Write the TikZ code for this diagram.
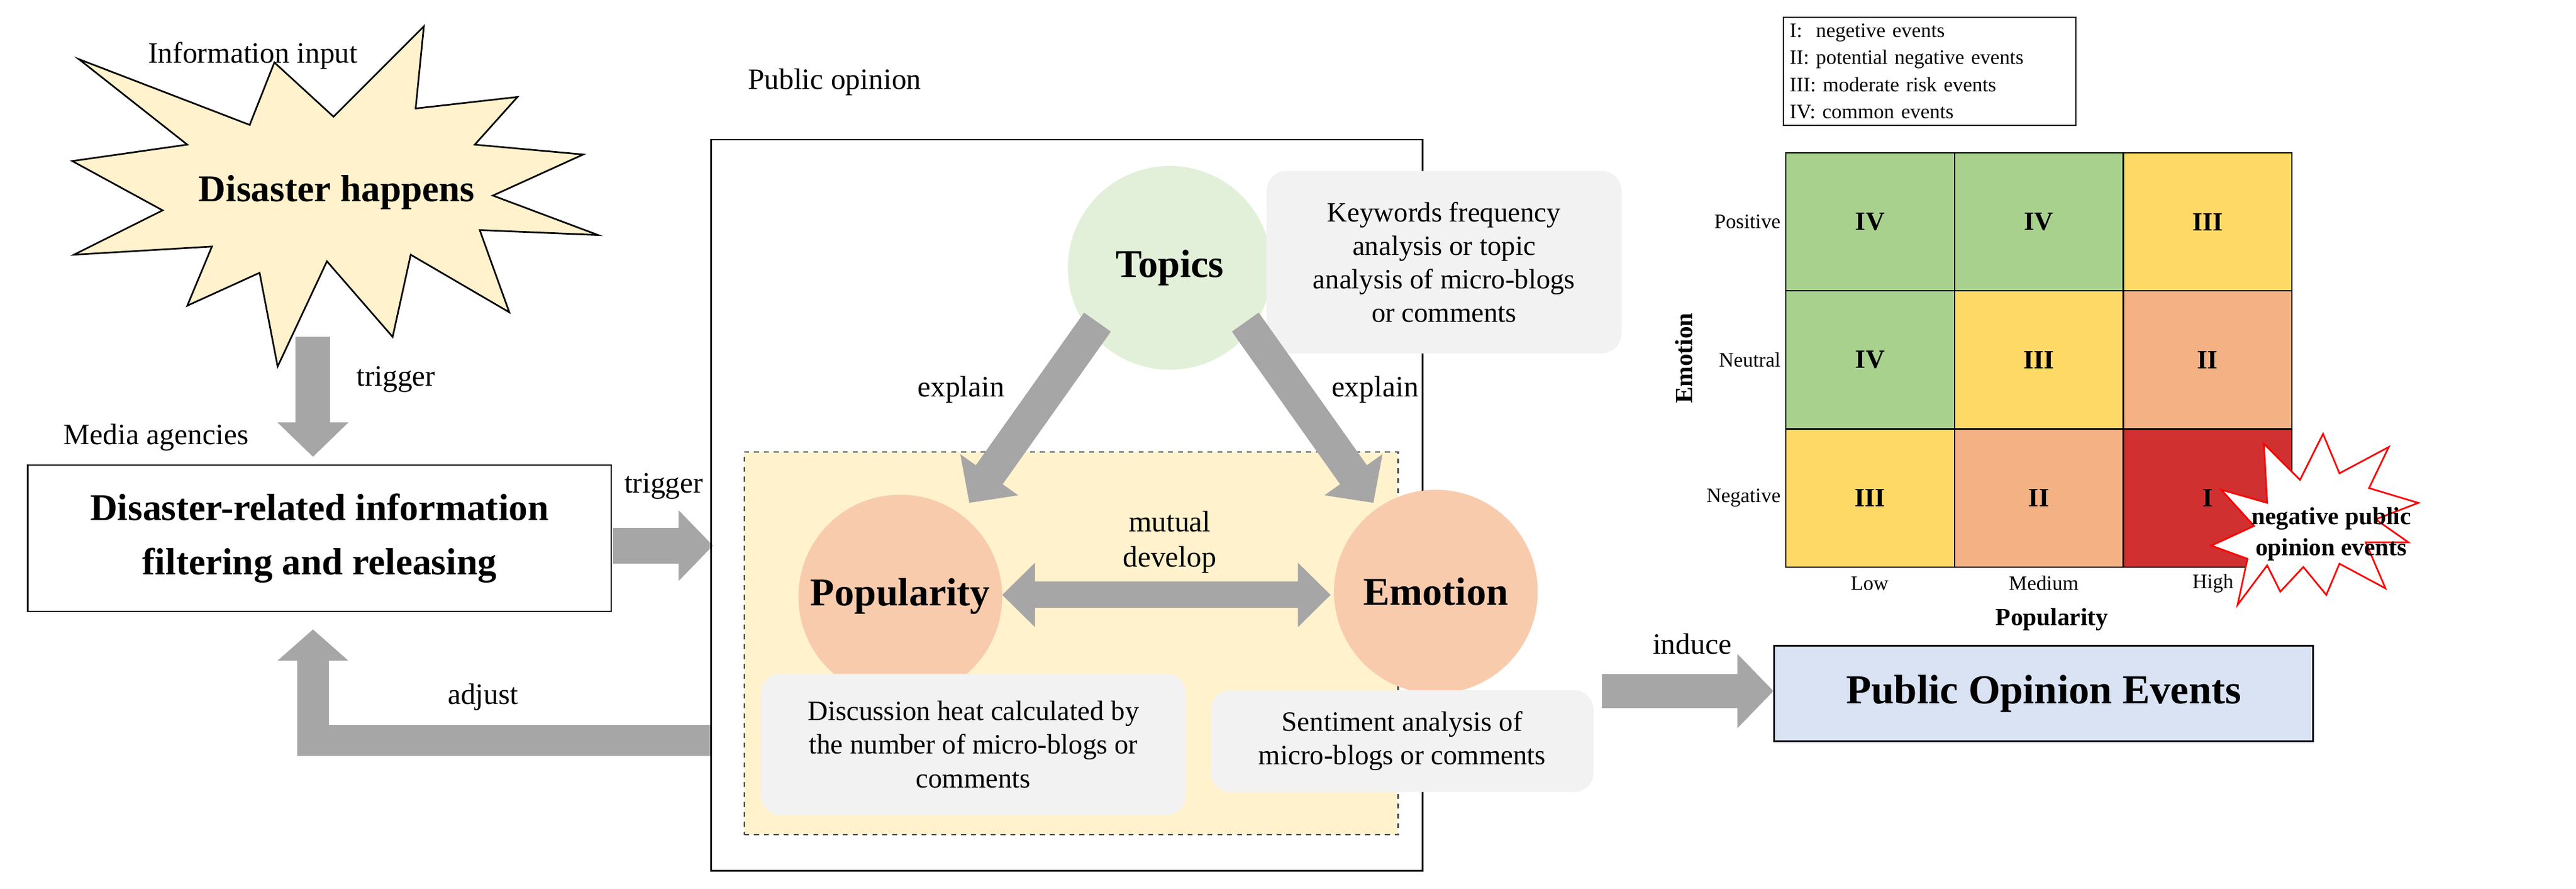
\documentclass[tikz,border=0pt]{standalone}
\usepackage{fontspec}
\setmainfont{Liberation Serif}
\usetikzlibrary{arrows.meta}
\definecolor{arr}{HTML}{A6A6A6}
\definecolor{star}{HTML}{FFF2CC}
\definecolor{note}{HTML}{F2F2F2}
\definecolor{cgreen}{HTML}{A9D18E}
\definecolor{cyel}{HTML}{FFD966}
\definecolor{corg}{HTML}{F4B183}
\definecolor{cred}{HTML}{D03030}
\definecolor{ctop}{HTML}{E2F0D9}
\definecolor{cpop}{HTML}{F8CBAD}
\definecolor{cev}{HTML}{DAE3F3}
\tikzset{
  fs/.style={font=\fontsize{#1}{\dimexpr#1pt*6/5\relax}\selectfont},
  barr/.style={draw=arr,line width=#1},
  tipA/.style={-{Triangle[width=42pt,length=21pt]}},
  lbl/.style={fs=18,inner sep=0pt},
  note/.style={fill=note,rounded corners=12pt,align=center,fs=17,inner sep=0pt},
  circ/.style={circle,minimum size=124pt,inner sep=0pt,font=\fontsize{24}{28}\selectfont\bfseries},
  cell/.style={draw=black,line width=0.8pt,minimum width=102.7pt,minimum height=84pt,inner sep=0pt,font=\fontsize{16}{19}\selectfont\bfseries},
  small/.style={fs=12.5,inner sep=0pt}
}
\begin{document}
\begin{tikzpicture}[x=1pt,y=-1pt]
\useasboundingbox[fill=white] (0,0) rectangle (1568,540.6);
% top starburst
\draw[fill=star,line width=1pt,line join=miter] (48,36)--(152,76)--(167,38)--(203,71)--(258,16)--(253,66)--(315,59)--(289,88)--(355,94)--(300,119)--(364,143)--(292,140)--(310,190)--(250,155)--(239,205)--(199,159)--(169,223)--(158,166)--(114,186)--(129,150)--(45,155)--(99,128)--(44,98)--(114,88)--cycle;
\node[inner sep=0pt,font=\bfseries\fontsize{23}{27}\selectfont] (dis) at (205,117) {Disaster happens};
\node[lbl] (ii) at (154,34) {Information input};
% trigger down
\coordinate (td1) at (190.5,205);
\coordinate (td2) at (190.5,278);
\draw[barr=21pt,tipA] (td1) -- (td2);
\node[lbl] (tr1) at (241,231) {trigger};
\node[lbl] (ma) at (95,266) {Media agencies};
% media box
\node[draw,line width=1pt,minimum width=355pt,minimum height=89pt,align=center,inner sep=0pt,font=\bfseries\fontsize{23}{33}\selectfont] (media) at (194.5,327.5) {Disaster-related information\\filtering and releasing};
% trigger right
\coordinate (tr2a) at (373,332);
\draw[barr=22pt,tipA] (tr2a) -- (434,332);
\node[lbl] (tr2) at (404,296) {trigger};
% public opinion box
\node[draw,line width=1pt,minimum width=433pt,minimum height=445pt,inner sep=0pt] (pob) at (649.5,307.5) {};
\node[lbl] (pol) at (508,50) {Public opinion};
% adjust
\draw[barr=19pt,-{Triangle[width=42pt,length=19pt]},line join=miter] (pob.west|-0,450.5) -- (190.5,450.5) -- (190.5,383);
\node[lbl] (adj) at (294,424) {adjust};
% dashed box
\node[draw=black!70,dashed,fill=star,line width=0.8pt,minimum width=398pt,minimum height=233pt,inner sep=0pt] (dash) at (652,391.5) {};
% circles
\node[circ,fill=ctop] (topics) at (712,163) {Topics};
\node[note,minimum width=216pt,minimum height=111pt] (tnote) at (879,159.5) {Keywords frequency\\analysis or topic\\analysis of micro-blogs\\or comments};
\node[circ,fill=cpop] (pop) at (548,363) {Popularity};
\node[circ,fill=cpop] (emo) at (874,360) {Emotion};
\node[note,minimum width=259pt,minimum height=86pt] (pnote) at (592.5,453) {Discussion heat calculated by\\the number of micro-blogs or\\comments};
\node[note,minimum width=233pt,minimum height=62pt] (enote) at (853.5,451) {Sentiment analysis of\\micro-blogs or comments};
% explain arrows
\draw[barr=20pt,tipA] (668,196) -- (590,306);
\draw[barr=20pt,tipA] (758,196) -- (836,306);
\node[lbl] (ex1) at (585,237) {explain};
\node[lbl] (ex2) at (837,237) {explain};
\draw[barr=16pt,{Triangle[width=38pt,length=20pt]}-{Triangle[width=38pt,length=20pt]}] (610,362) -- (810,362);
\node[lbl,align=center] (mut) at (712,330) {mutual\\develop};
% induce
\node[draw,line width=1pt,fill=cev,minimum width=328pt,minimum height=58pt,inner sep=0pt,font=\bfseries\fontsize{25}{29}\selectfont] (poe) at (1244,422) {Public Opinion Events};
\draw[barr=21pt,-{Triangle[width=44pt,length=22pt]}] (975,420.5) -- (poe.west|-0,420.5);
\node[lbl] (ind) at (1030,392) {induce};
% legend
\node[draw,line width=0.8pt,align=left,inner sep=4pt,text width=170pt,anchor=north west,font=\fontsize{12.5}{16.5}\selectfont] (leg) at (1085,10) {I:\ \ negetive events\\II: potential negative events\\III: moderate risk events\\IV: common events};
% matrix
\node[cell,fill=cgreen] (c11) at (1138.35,135) {IV};
\node[cell,fill=cgreen] (c12) at (1241.05,135) {IV};
\node[cell,fill=cyel] (c13) at (1343.75,135) {III};
\node[cell,fill=cgreen] (c21) at (1138.35,219) {IV};
\node[cell,fill=cyel] (c22) at (1241.05,219) {III};
\node[cell,fill=corg] (c23) at (1343.75,219) {II};
\node[cell,fill=cyel] (c31) at (1138.35,303) {III};
\node[cell,fill=corg] (c32) at (1241.05,303) {II};
\node[cell,fill=cred] (c33) at (1343.75,303) {I};
\node[small,anchor=east] (rp) at (1084,135) {Positive};
\node[small,anchor=east] (rn) at (1084,219) {Neutral};
\node[small,anchor=east] (rg) at (1084,303) {Negative};
\node[small] (cl) at (1138,355) {Low};
\node[small] (cm) at (1244,355) {Medium};
\node[small] (ch) at (1347,355) {High};
\node[inner sep=0pt,font=\bfseries\fontsize{15}{18}\selectfont] (xl) at (1249,377) {Popularity};
\node[inner sep=0pt,rotate=90,font=\bfseries\fontsize{15}{18}\selectfont] (yl) at (1025,218) {Emotion};
% red starburst
\draw[fill=white,draw=red,line width=1pt] (1352,298)--(1380,306)--(1378,270)--(1400,292)--(1414,264)--(1424,288)--(1454,272)--(1442,297)--(1472,306)--(1446,316)--(1466,330)--(1440,330)--(1452,358)--(1424,343)--(1416,362)--(1402,345)--(1388,360)--(1380,344)--(1362,368)--(1368,340)--(1346,332)--(1372,320)--cycle;
\node[inner sep=0pt,align=center,font=\bfseries\fontsize{15}{19}\selectfont] (neg) at (1419,325) {negative public\\opinion events};
\end{tikzpicture}
\end{document}
